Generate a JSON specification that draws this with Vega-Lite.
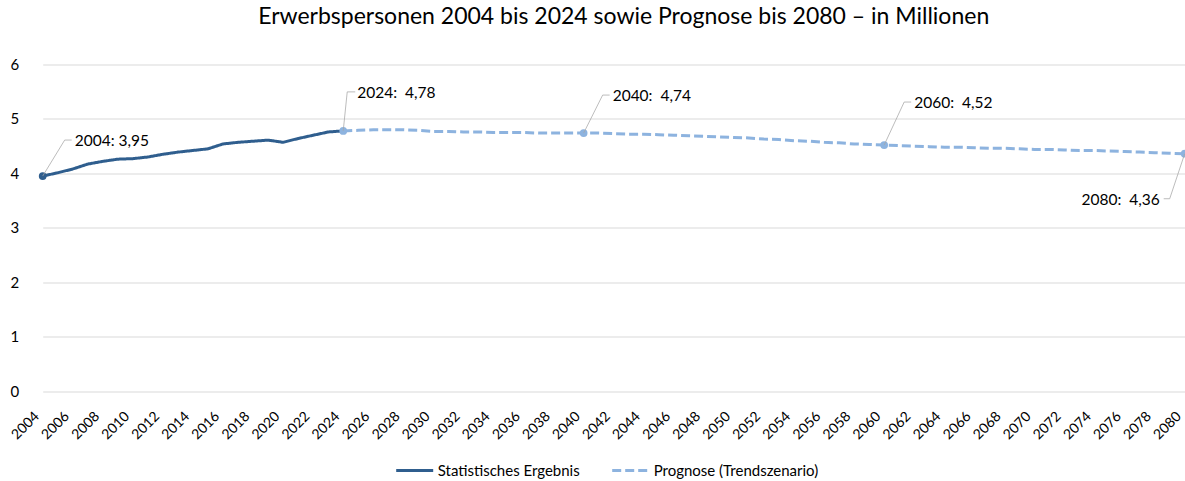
{
  "$schema": "https://vega.github.io/schema/vega-lite/v6.json",
  "width": 1142,
  "height": 326.5,
  "autosize": {"type": "none"},
  "padding": {"left": 42.7, "top": 64.5, "right": 0.3, "bottom": 90},
  "title": {"text": "Erwerbspersonen 2004 bis 2024 sowie Prognose bis 2080 – in Millionen", "font": "Lato", "fontSize": 23, "fontWeight": "normal", "color": "#000000", "anchor": "middle", "dx": 10, "offset": 29},
  "config": {
    "view": {"stroke": null},
    "font": "Lato",
    "axis": {"labelFont": "Lato", "labelColor": "#000000", "ticks": false, "domain": false},
    "legend": {"labelFont": "Lato"}
  },
  "datasets": {
    "erw": [
      {"year": 2004, "value": 3.95, "series": "Statistisches Ergebnis"},
      {"year": 2005, "value": 4.01, "series": "Statistisches Ergebnis"},
      {"year": 2006, "value": 4.08, "series": "Statistisches Ergebnis"},
      {"year": 2007, "value": 4.17, "series": "Statistisches Ergebnis"},
      {"year": 2008, "value": 4.22, "series": "Statistisches Ergebnis"},
      {"year": 2009, "value": 4.26, "series": "Statistisches Ergebnis"},
      {"year": 2010, "value": 4.27, "series": "Statistisches Ergebnis"},
      {"year": 2011, "value": 4.30, "series": "Statistisches Ergebnis"},
      {"year": 2012, "value": 4.35, "series": "Statistisches Ergebnis"},
      {"year": 2013, "value": 4.39, "series": "Statistisches Ergebnis"},
      {"year": 2014, "value": 4.42, "series": "Statistisches Ergebnis"},
      {"year": 2015, "value": 4.45, "series": "Statistisches Ergebnis"},
      {"year": 2016, "value": 4.54, "series": "Statistisches Ergebnis"},
      {"year": 2017, "value": 4.57, "series": "Statistisches Ergebnis"},
      {"year": 2018, "value": 4.59, "series": "Statistisches Ergebnis"},
      {"year": 2019, "value": 4.61, "series": "Statistisches Ergebnis"},
      {"year": 2020, "value": 4.57, "series": "Statistisches Ergebnis"},
      {"year": 2021, "value": 4.64, "series": "Statistisches Ergebnis"},
      {"year": 2022, "value": 4.70, "series": "Statistisches Ergebnis"},
      {"year": 2023, "value": 4.76, "series": "Statistisches Ergebnis"},
      {"year": 2024, "value": 4.78, "series": "Statistisches Ergebnis"},
      {"year": 2024, "value": 4.78, "series": "Prognose (Trendszenario)"},
      {"year": 2025, "value": 4.79, "series": "Prognose (Trendszenario)"},
      {"year": 2026, "value": 4.80, "series": "Prognose (Trendszenario)"},
      {"year": 2027, "value": 4.80, "series": "Prognose (Trendszenario)"},
      {"year": 2028, "value": 4.80, "series": "Prognose (Trendszenario)"},
      {"year": 2029, "value": 4.79, "series": "Prognose (Trendszenario)"},
      {"year": 2030, "value": 4.77, "series": "Prognose (Trendszenario)"},
      {"year": 2031, "value": 4.77, "series": "Prognose (Trendszenario)"},
      {"year": 2032, "value": 4.76, "series": "Prognose (Trendszenario)"},
      {"year": 2033, "value": 4.76, "series": "Prognose (Trendszenario)"},
      {"year": 2034, "value": 4.75, "series": "Prognose (Trendszenario)"},
      {"year": 2035, "value": 4.75, "series": "Prognose (Trendszenario)"},
      {"year": 2036, "value": 4.75, "series": "Prognose (Trendszenario)"},
      {"year": 2037, "value": 4.74, "series": "Prognose (Trendszenario)"},
      {"year": 2038, "value": 4.74, "series": "Prognose (Trendszenario)"},
      {"year": 2039, "value": 4.74, "series": "Prognose (Trendszenario)"},
      {"year": 2040, "value": 4.74, "series": "Prognose (Trendszenario)"},
      {"year": 2041, "value": 4.74, "series": "Prognose (Trendszenario)"},
      {"year": 2042, "value": 4.73, "series": "Prognose (Trendszenario)"},
      {"year": 2043, "value": 4.72, "series": "Prognose (Trendszenario)"},
      {"year": 2044, "value": 4.72, "series": "Prognose (Trendszenario)"},
      {"year": 2045, "value": 4.71, "series": "Prognose (Trendszenario)"},
      {"year": 2046, "value": 4.70, "series": "Prognose (Trendszenario)"},
      {"year": 2047, "value": 4.69, "series": "Prognose (Trendszenario)"},
      {"year": 2048, "value": 4.68, "series": "Prognose (Trendszenario)"},
      {"year": 2049, "value": 4.67, "series": "Prognose (Trendszenario)"},
      {"year": 2050, "value": 4.66, "series": "Prognose (Trendszenario)"},
      {"year": 2051, "value": 4.65, "series": "Prognose (Trendszenario)"},
      {"year": 2052, "value": 4.63, "series": "Prognose (Trendszenario)"},
      {"year": 2053, "value": 4.62, "series": "Prognose (Trendszenario)"},
      {"year": 2054, "value": 4.60, "series": "Prognose (Trendszenario)"},
      {"year": 2055, "value": 4.59, "series": "Prognose (Trendszenario)"},
      {"year": 2056, "value": 4.57, "series": "Prognose (Trendszenario)"},
      {"year": 2057, "value": 4.56, "series": "Prognose (Trendszenario)"},
      {"year": 2058, "value": 4.54, "series": "Prognose (Trendszenario)"},
      {"year": 2059, "value": 4.53, "series": "Prognose (Trendszenario)"},
      {"year": 2060, "value": 4.52, "series": "Prognose (Trendszenario)"},
      {"year": 2061, "value": 4.51, "series": "Prognose (Trendszenario)"},
      {"year": 2062, "value": 4.50, "series": "Prognose (Trendszenario)"},
      {"year": 2063, "value": 4.49, "series": "Prognose (Trendszenario)"},
      {"year": 2064, "value": 4.48, "series": "Prognose (Trendszenario)"},
      {"year": 2065, "value": 4.48, "series": "Prognose (Trendszenario)"},
      {"year": 2066, "value": 4.47, "series": "Prognose (Trendszenario)"},
      {"year": 2067, "value": 4.46, "series": "Prognose (Trendszenario)"},
      {"year": 2068, "value": 4.46, "series": "Prognose (Trendszenario)"},
      {"year": 2069, "value": 4.45, "series": "Prognose (Trendszenario)"},
      {"year": 2070, "value": 4.44, "series": "Prognose (Trendszenario)"},
      {"year": 2071, "value": 4.44, "series": "Prognose (Trendszenario)"},
      {"year": 2072, "value": 4.43, "series": "Prognose (Trendszenario)"},
      {"year": 2073, "value": 4.42, "series": "Prognose (Trendszenario)"},
      {"year": 2074, "value": 4.42, "series": "Prognose (Trendszenario)"},
      {"year": 2075, "value": 4.41, "series": "Prognose (Trendszenario)"},
      {"year": 2076, "value": 4.40, "series": "Prognose (Trendszenario)"},
      {"year": 2077, "value": 4.39, "series": "Prognose (Trendszenario)"},
      {"year": 2078, "value": 4.38, "series": "Prognose (Trendszenario)"},
      {"year": 2079, "value": 4.37, "series": "Prognose (Trendszenario)"},
      {"year": 2080, "value": 4.36, "series": "Prognose (Trendszenario)"}
    ],
    "ann": [
      {"year": 2004, "value": 3.95, "label": "2004: 3,95"},
      {"year": 2024, "value": 4.78, "label": "2024: \u00a04,78"},
      {"year": 2040, "value": 4.74, "label": "2040: \u00a04,74"},
      {"year": 2060, "value": 4.52, "label": "2060: \u00a04,52"},
      {"year": 2080, "value": 4.36, "label": "2080: \u00a04,36"}
    ]
  },
  "encoding": {
    "x": {"field": "year", "type": "quantitative", "scale": {"domain": [2004, 2080], "nice": false, "zero": false},
      "axis": {"title": null, "values": [2004,2006,2008,2010,2012,2014,2016,2018,2020,2022,2024,2026,2028,2030,2032,2034,2036,2038,2040,2042,2044,2046,2048,2050,2052,2054,2056,2058,2060,2062,2064,2066,2068,2070,2072,2074,2076,2078,2080], "format": "d", "labelAngle": -45, "labelAlign": "right", "labelBaseline": "middle", "labelFontSize": 14, "labelPadding": 23, "labelOffset": -6, "grid": false, "labelOverlap": false, "labelBound": false, "labelFlush": false}},
    "y": {"field": "value", "type": "quantitative", "scale": {"domain": [0, 6], "nice": false},
      "axis": {"title": null, "values": [0,1,2,3,4,5,6], "labelFontSize": 15, "labelPadding": 24, "grid": true, "gridColor": "#D9D9D9", "gridWidth": 1}}
  },
  "layer": [
    {
      "data": {"name": "erw"},
      "mark": {"type": "line", "strokeWidth": 3, "strokeCap": "butt"},
      "encoding": {
        "color": {"field": "series", "type": "nominal",
          "scale": {"domain": ["Statistisches Ergebnis", "Prognose (Trendszenario)"], "range": ["#2F5E8E", "#8DB3DF"]},
          "legend": {"title": null, "orient": "none", "legendX": 352, "legendY": 386, "direction": "horizontal", "symbolType": "stroke", "symbolSize": 1369, "symbolStrokeWidth": 3, "labelFontSize": 15, "labelColor": "#000000", "labelLimit": 400, "columnPadding": 26, "labelOffset": 3}},
        "strokeDash": {"field": "series", "type": "nominal",
          "scale": {"domain": ["Statistisches Ergebnis", "Prognose (Trendszenario)"], "range": [[1, 0], [9, 4]]},
          "legend": {"title": null, "orient": "none", "legendX": 352, "legendY": 386, "direction": "horizontal", "symbolType": "stroke", "symbolSize": 1369, "symbolStrokeWidth": 3, "labelFontSize": 15, "labelColor": "#000000", "labelLimit": 400, "columnPadding": 26, "labelOffset": 3}}
      }
    },
    {
      "data": {"name": "ann"},
      "transform": [{"filter": "datum.year == 2004"}],
      "mark": {"type": "point", "filled": true, "size": 60, "color": "#2F5E8E", "opacity": 1}
    },
    {
      "data": {"name": "ann"},
      "transform": [{"filter": "datum.year != 2004"}],
      "mark": {"type": "point", "filled": true, "size": 60, "color": "#8DB3DF", "opacity": 1}
    },
    {
      "data": {"name": "ann"},
      "transform": [{"filter": "datum.year == 2004"}],
      "mark": {"type": "rule", "color": "#A6A6A6", "strokeWidth": 0.75, "x2Offset": 22, "y2Offset": -36},
      "encoding": {"x2": {"field": "year"}, "y2": {"field": "value"}}
    },
    {
      "data": {"name": "ann"},
      "transform": [{"filter": "datum.year == 2004"}],
      "mark": {"type": "rule", "color": "#A6A6A6", "strokeWidth": 0.75, "xOffset": 22, "yOffset": -36, "x2Offset": 29, "y2Offset": -36},
      "encoding": {"x2": {"field": "year"}, "y2": {"field": "value"}}
    },
    {
      "data": {"name": "ann"},
      "transform": [{"filter": "datum.year == 2004"}],
      "mark": {"type": "text", "align": "left", "baseline": "middle", "dx": 32, "dy": -35, "fontSize": 15.5, "font": "Lato", "color": "#000000"},
      "encoding": {"text": {"field": "label"}}
    },
    {
      "data": {"name": "ann"},
      "transform": [{"filter": "datum.year == 2024"}],
      "mark": {"type": "rule", "color": "#A6A6A6", "strokeWidth": 0.75, "x2Offset": 4, "y2Offset": -39},
      "encoding": {"x2": {"field": "year"}, "y2": {"field": "value"}}
    },
    {
      "data": {"name": "ann"},
      "transform": [{"filter": "datum.year == 2024"}],
      "mark": {"type": "rule", "color": "#A6A6A6", "strokeWidth": 0.75, "xOffset": 4, "yOffset": -39, "x2Offset": 12, "y2Offset": -39},
      "encoding": {"x2": {"field": "year"}, "y2": {"field": "value"}}
    },
    {
      "data": {"name": "ann"},
      "transform": [{"filter": "datum.year == 2024"}],
      "mark": {"type": "text", "align": "left", "baseline": "middle", "dx": 14, "dy": -38, "fontSize": 15.5, "font": "Lato", "color": "#000000"},
      "encoding": {"text": {"field": "label"}}
    },
    {
      "data": {"name": "ann"},
      "transform": [{"filter": "datum.year == 2040"}],
      "mark": {"type": "rule", "color": "#A6A6A6", "strokeWidth": 0.75, "x2Offset": 19, "y2Offset": -38},
      "encoding": {"x2": {"field": "year"}, "y2": {"field": "value"}}
    },
    {
      "data": {"name": "ann"},
      "transform": [{"filter": "datum.year == 2040"}],
      "mark": {"type": "rule", "color": "#A6A6A6", "strokeWidth": 0.75, "xOffset": 19, "yOffset": -38, "x2Offset": 26, "y2Offset": -38},
      "encoding": {"x2": {"field": "year"}, "y2": {"field": "value"}}
    },
    {
      "data": {"name": "ann"},
      "transform": [{"filter": "datum.year == 2040"}],
      "mark": {"type": "text", "align": "left", "baseline": "middle", "dx": 29, "dy": -37, "fontSize": 15.5, "font": "Lato", "color": "#000000"},
      "encoding": {"text": {"field": "label"}}
    },
    {
      "data": {"name": "ann"},
      "transform": [{"filter": "datum.year == 2060"}],
      "mark": {"type": "rule", "color": "#A6A6A6", "strokeWidth": 0.75, "x2Offset": 20, "y2Offset": -43},
      "encoding": {"x2": {"field": "year"}, "y2": {"field": "value"}}
    },
    {
      "data": {"name": "ann"},
      "transform": [{"filter": "datum.year == 2060"}],
      "mark": {"type": "rule", "color": "#A6A6A6", "strokeWidth": 0.75, "xOffset": 20, "yOffset": -43, "x2Offset": 27, "y2Offset": -43},
      "encoding": {"x2": {"field": "year"}, "y2": {"field": "value"}}
    },
    {
      "data": {"name": "ann"},
      "transform": [{"filter": "datum.year == 2060"}],
      "mark": {"type": "text", "align": "left", "baseline": "middle", "dx": 30, "dy": -42, "fontSize": 15.5, "font": "Lato", "color": "#000000"},
      "encoding": {"text": {"field": "label"}}
    },
    {
      "data": {"name": "ann"},
      "transform": [{"filter": "datum.year == 2080"}],
      "mark": {"type": "rule", "color": "#A6A6A6", "strokeWidth": 0.75, "x2Offset": -15, "y2Offset": 45},
      "encoding": {"x2": {"field": "year"}, "y2": {"field": "value"}}
    },
    {
      "data": {"name": "ann"},
      "transform": [{"filter": "datum.year == 2080"}],
      "mark": {"type": "rule", "color": "#A6A6A6", "strokeWidth": 0.75, "xOffset": -15, "yOffset": 45, "x2Offset": -21, "y2Offset": 45},
      "encoding": {"x2": {"field": "year"}, "y2": {"field": "value"}}
    },
    {
      "data": {"name": "ann"},
      "transform": [{"filter": "datum.year == 2080"}],
      "mark": {"type": "text", "align": "right", "baseline": "middle", "dx": -25, "dy": 46, "fontSize": 15.5, "font": "Lato", "color": "#000000"},
      "encoding": {"text": {"field": "label"}}
    }
  ]
}
